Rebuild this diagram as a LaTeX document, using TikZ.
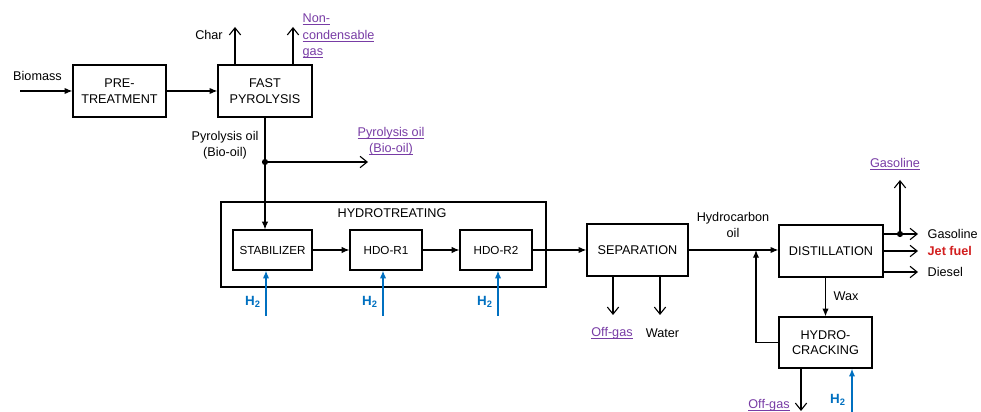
\documentclass[tikz,border=0pt]{standalone}
\usepackage{fontspec}
\setmainfont{Liberation Sans}
\usetikzlibrary{arrows.meta}
\definecolor{linkpurple}{RGB}{120,60,165}
\definecolor{htwo}{RGB}{0,112,192}
\definecolor{jetred}{RGB}{210,30,30}
\newcommand\lnk[1]{\setbox0\hbox{#1}\rlap{\rule[-1.6pt]{\wd0}{0.5pt}}\box0}
\begin{document}
\begin{tikzpicture}[x=0.025cm,y=-0.025cm]
  \tikzset{
    unit/.style={draw,line width=0.9pt,align=center,minimum height=1.3cm,inner sep=1pt,font=\fontsize{9}{11}\selectfont},
    subunit/.style={draw,line width=0.8pt,minimum width=1.8cm,minimum height=1cm,inner sep=1pt,font=\fontsize{8.3}{10}\selectfont},
    feed/.style={line width=0.8pt,-{Latex[length=5.5pt,width=4.5pt]}},
    prod/.style={line width=0.8pt,-{Straight Barb[length=5pt,width=8pt]}},
    hfeed/.style={feed,draw=htwo,line width=1pt},
    lbl/.style={font=\fontsize{9}{11.5}\selectfont,align=center,inner sep=1pt},
    link/.style={lbl,text=linkpurple},
    htag/.style={font=\fontsize{9.5}{11}\selectfont\bfseries,text=htwo,inner sep=1pt}}
  \useasboundingbox (0,0) rectangle (981,412);
  % pretreatment and pyrolysis
  \node[unit,minimum width=2.325cm] (pre) at (119.5,91) {PRE-\\TREATMENT};
  \node[unit,minimum width=2.35cm] (fast) at (265,91) {FAST\\PYROLYSIS};
  \coordinate (bio) at (20,91);
  \node[lbl] (biolbl) at (37.5,76) {Biomass};
  \draw[feed] (bio) -- (pre);
  \draw[feed] (pre) -- (fast);
  \coordinate (char) at (235,27);
  \coordinate (ncg) at (293,27);
  \draw[prod] (fast.north -| char) -- (char);
  \draw[prod] (fast.north -| ncg) -- (ncg);
  \node[lbl] (charlbl) at (209,35) {Char};
  \node[link,align=left,anchor=west] (ncglbl) at (301,36) {\lnk{Non-}\\\lnk{condensable}\\\lnk{gas}};
  % bio-oil split
  \coordinate (split) at (265,162);
  \coordinate (pyo) at (368,162);
  \node[lbl] (oillbl) at (225,145.5) {Pyrolysis oil\\(Bio-oil)};
  \node[link] (pyolbl) at (391,141) {\lnk{Pyrolysis oil}\\\lnk{(Bio-oil)}};
  \draw[prod] (split) -- (pyo);
  % hydrotreating
  \node[unit,minimum width=8.125cm,minimum height=2.125cm] (ht) at (383.5,244.5) {};
  \node[lbl] (htlbl) at (392,213) {HYDROTREATING};
  \node[subunit,minimum width=1.975cm] (stab) at (272.5,250) {STABILIZER};
  \node[subunit] (r1) at (386,250) {HDO-R1};
  \node[subunit] (r2) at (496,250) {HDO-R2};
  \draw[feed] (fast.south) -- (fast.south |- stab.north);
  \fill (split) circle (2.2pt);
  \draw[feed] (stab) -- (r1);
  \draw[feed] (r1) -- (r2);
  \foreach \x/\n/\b in {266/1/stab,383/2/r1,498/3/r2}{
    \coordinate (h\n) at (\x,316);
    \draw[hfeed] (h\n) -- (h\n |- \b.south);
  }
  \node[htag] (h1lbl) at (253,302) {H\textsubscript{2}};
  \node[htag] (h2lbl) at (370,302) {H\textsubscript{2}};
  \node[htag] (h3lbl) at (485,302) {H\textsubscript{2}};
  % separation
  \node[unit,minimum width=2.525cm] (sep) at (637.5,250) {SEPARATION};
  \draw[feed] (r2) -- (sep);
  \coordinate (offg) at (613,315);
  \coordinate (wat) at (660,315);
  \draw[prod] (sep.south -| offg) -- (offg);
  \draw[prod] (sep.south -| wat) -- (wat);
  \node[link] (offglbl) at (612,333) {\lnk{Off-gas}};
  \node[lbl] (watlbl) at (662.5,333) {Water};
  % distillation and hydrocracking
  \node[unit,minimum width=2.6cm] (dist) at (831,251) {DISTILLATION};
  \node[unit,minimum width=2.325cm,minimum height=1.275cm] (hc) at (825.5,342.5) {HYDRO-\\CRACKING};
  \node[lbl] (hcolbl) at (733,225) {Hydrocarbon\\oil};
  \coordinate (junc) at (756,250);
  \draw[feed] (sep.east |- junc) -- (dist.west |- junc);
  \draw[feed] (hc.west) -| (junc);
  \draw[feed] (hc.north |- dist.south) -- (hc);
  \node[lbl,anchor=west] (waxlbl) at (832,296) {Wax};
  \coordinate (gas) at (918,234);
  \coordinate (jet) at (918,251);
  \coordinate (die) at (918,272);
  \coordinate (gsplit) at (900,234);
  \coordinate (gtop) at (900,180);
  \draw[prod] (dist.east |- gas) -- (gas);
  \draw[prod] (dist.east |- jet) -- (jet);
  \draw[prod] (dist.east |- die) -- (die);
  \draw[prod] (gsplit) -- (gtop);
  \fill (gsplit) circle (2.2pt);
  \node[lbl,anchor=west] (gaslbl) at (926,234) {Gasoline};
  \node[lbl,anchor=west,text=jetred,font=\fontsize{9}{11}\selectfont\bfseries] (jetlbl) at (926,251) {Jet fuel};
  \node[lbl,anchor=west] (dielbl) at (926,272) {Diesel};
  \node[link] (gtoplbl) at (895,164) {\lnk{Gasoline}};
  \coordinate (hcoff) at (801,411);
  \coordinate (h4) at (852,412);
  \draw[prod] (hc.south -| hcoff) -- (hcoff);
  \draw[hfeed] (h4) -- (h4 |- hc.south);
  \node[link] (hcofflbl) at (769,405) {\lnk{Off-gas}};
  \node[htag] (h4lbl) at (838,400) {H\textsubscript{2}};
\end{tikzpicture}
\end{document}
